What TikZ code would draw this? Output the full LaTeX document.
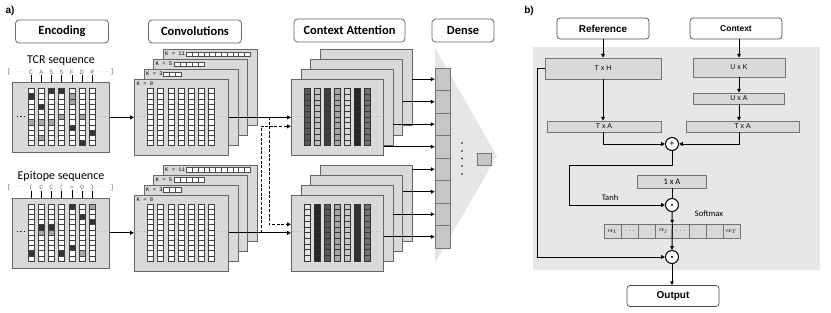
\documentclass[tikz,border=0pt]{standalone}
\usepackage{fontspec}
\setmainfont{Carlito}
\newfontfamily\arialfont{Liberation Sans}
\newfontfamily\seqfont{Liberation Mono}
\usepackage{tikz}
\usetikzlibrary{arrows.meta,positioning,calc}
\definecolor{boxgray}{HTML}{D9D9D9}
\definecolor{panelgray}{HTML}{E7E7E7}
\definecolor{cellgray}{HTML}{C6C6C6}
\definecolor{fangray}{HTML}{E6E6E6}
\definecolor{lettergray}{HTML}{6E6E6E}
\colorlet{hotcell}{black!80}
\colorlet{warmcell}{black!35}

% 7 sequence columns of 11 cells
\newcommand{\seqcells}[2]{%
  \foreach \i in {0,...,6}
    \foreach \j in {0,...,10}
      \draw[cell] ({#1+10.2*\i-3},{#2+5.2*\j}) rectangle ++(6,5.2);}
\newcommand{\markcell}[5]{%
  \draw[cell,fill=#5] ({#1+10.2*(#3-1)-3},{#2+5.2*(#4-1)}) rectangle ++(6,5.2);}

% stack of convolution maps
\newcommand{\convstack}[2]{%
  \node[fmap] (#1k11) at (162.5,{49+#2}) {};
  \node[klabel] at ($(#1k11.north west)+(2.5,5)$) {K = 11};
  \foreach \s in {0,...,10}
    \draw[kbox] ($(#1k11.north west)+(24,2.8)+(5.8*\s,0)$) rectangle ++(5.8,4.6);
  \node[fmap] (#1k5) at (153,{59+#2}) {};
  \node[klabel] at ($(#1k5.north west)+(2.5,5)$) {K = 5};
  \foreach \s in {0,...,4}
    \draw[kbox] ($(#1k5.north west)+(21,2.8)+(6*\s,0)$) rectangle ++(6,4.6);
  \node[fmap] (#1k3) at (143.5,{69+#2}) {};
  \node[klabel] at ($(#1k3.north west)+(2.5,5)$) {K = 3};
  \foreach \s in {0,...,2}
    \draw[kbox] ($(#1k3.north west)+(20,2.8)+(6*\s,0)$) rectangle ++(6,4.6);
  \node[fmap] (#1k0) at (134,{79+#2}) {};
  \node[klabel] at ($(#1k0.north west)+(2.5,5)$) {K = 0};
  \seqcells{150.5}{88.4+#2}
  \node[dotnode] at (141,{117+#2}) {$\cdots$};
  \node[dotnode] at (222,{117+#2}) {$\cdots$};}

% stack of attention maps
\newcommand{\ctxstack}[2]{%
  \node[ctxmap] (#14) at (319.5,{49+#2}) {};
  \node[ctxmap] (#13) at (310,{59+#2}) {};
  \node[ctxmap] (#12) at (300.5,{69+#2}) {};
  \node[ctxmap] (#11) at (291,{79+#2}) {};
  \node[dotnode] at (297.5,{117+#2}) {$\cdots$};
  \node[dotnode] at (376.5,{117+#2}) {$\cdots$};}

\begin{document}
\begin{tikzpicture}[x=1pt,y=-1pt,
  header/.style={draw=black!60, line width=0.8pt, rounded corners=3.5pt, fill=white,
    minimum width=93pt, minimum height=23pt, inner sep=0,
    font=\bfseries\fontsize{12.5}{14}\selectfont},
  fmap/.style={draw=black!60, line width=0.7pt, fill=boxgray, anchor=north west,
    inner sep=0, minimum width=94pt, minimum height=76pt},
  ctxmap/.style={fmap, minimum width=92pt},
  cell/.style={draw=black!75, line width=0.55pt, fill=white},
  attcell/.style={draw=black!80, line width=0.5pt},
  kbox/.style={draw=black!70, line width=0.45pt, fill=white},
  klabel/.style={anchor=west, inner sep=0, font=\seqfont\fontsize{5.5}{6}\selectfont},
  seqchar/.style={inner sep=0.6pt, text=lettergray, font=\seqfont\fontsize{6.5}{7}\selectfont},
  seqtitle/.style={font=\fontsize{12}{14}\selectfont},
  dotnode/.style={inner sep=0, font=\fontsize{6}{7}\selectfont},
  seqtick/.style={line width=0.55pt},
  dcell/.style={draw=black!55, line width=0.6pt, fill=cellgray, minimum width=15pt,
    minimum height=22.5pt, inner sep=0},
  arrow/.style={-{Triangle[length=3.8pt,width=3.6pt]}, line width=1pt},
  dasharrow/.style={arrow, dash pattern=on 3pt off 1.6pt},
  plainline/.style={line width=1pt},
  rhead/.style={draw=black!70, line width=0.7pt, rounded corners=3pt, fill=white,
    minimum width=92pt, minimum height=21pt, inner sep=0,
    font=\arialfont\bfseries\fontsize{10}{12}\selectfont},
  dimbox/.style={draw=black!55, line width=0.6pt, fill=boxgray, inner sep=0,
    font=\arialfont\fontsize{7}{8}\selectfont},
  opcircle/.style={circle, draw, line width=1pt, fill=white, minimum size=13pt,
    inner sep=0, font=\arialfont\fontsize{9}{9}\selectfont},
  acell/.style={draw=black!55, line width=0.6pt, fill=boxgray, minimum width=17pt,
    minimum height=14pt, inner sep=0, font=\fontsize{7.5}{8}\selectfont},
  opnote/.style={font=\fontsize{8.5}{10}\selectfont},
  panellabel/.style={font=\arialfont\bfseries\fontsize{10}{12}\selectfont}
]
\useasboundingbox (0,0) rectangle (831,313);

% backgrounds
\fill[fangray] (435,48) -- (497,156) -- (435,263) -- cycle;
\fill[panelgray] (533,47) rectangle (820,270);

% a) headers
\node[panellabel] (lbla) at (10,11) {a)};
\node[header] (encodingHead) at (62,31.5) {Encoding};
\node[header] (convHead) at (195,31.5) {Convolutions};
\node[header,minimum width=111pt] (attHead) at (349.5,30.5) {Context Attention};
\node[header,minimum width=62pt] (denseHead) at (463,30.5) {Dense};

% TCR encoding
\node[seqtitle] (tcrTitle) at (61,61) {TCR sequence};
\node[fmap,minimum width=97pt,minimum height=70pt] (encT) at (12,82) {};
\node[seqchar] at (9,72) {[};
\node[seqchar] at (19.5,72) {$\cdots$};
\node[seqchar] at (103,72) {$\cdots$};
\node[seqchar] at (112,72) {]};
\foreach \ch [count=\i] in {C,A,S,S,F,D,R} {
  \node[seqchar] (tcr\i) at ({31+10.2*(\i-1)},72) {\ch};
  \draw[seqtick] (tcr\i.south) -- (tcr\i.south |- encT.north);}
\seqcells{31}{88.4}
\foreach \cc/\rr/\ff in {1/2/hotcell,1/7/warmcell,2/4/hotcell,2/7/warmcell,2/10/warmcell,
  3/1/hotcell,3/7/warmcell,4/1/hotcell,4/6/warmcell,5/2/warmcell,5/3/warmcell,
  5/8/hotcell,6/6/warmcell,6/11/hotcell,7/9/hotcell}
  \markcell{31}{88.4}{\cc}{\rr}{\ff}
\node[dotnode] at (21,117) {$\cdots$};
\node[dotnode] at (102,117) {$\cdots$};

% epitope encoding
\node[seqtitle] (epiTitle) at (61,176.5) {Epitope sequence};
\node[fmap,minimum width=97pt,minimum height=70pt] (encB) at (12,197.5) {};
\node[seqchar] at (9,187.5) {[};
\node[seqchar] at (19.5,187.5) {$\cdots$};
\node[seqchar] at (103,187.5) {$\cdots$};
\node[seqchar] at (112,187.5) {]};
\foreach \ch [count=\i] in {{(},C,C,{(},=,O,{)}} {
  \node[seqchar] (epi\i) at ({31+10.2*(\i-1)},187.5) {\ch};
  \draw[seqtick] (epi\i.south) -- (epi\i.south |- encB.north);}
\seqcells{31}{203.9}
\foreach \cc/\rr/\ff in {1/10/hotcell,2/5/hotcell,2/6/warmcell,3/5/hotcell,3/6/warmcell,
  4/10/hotcell,5/1/hotcell,5/9/hotcell,6/3/hotcell,6/10/warmcell,7/1/warmcell,7/4/hotcell}
  \markcell{31}{203.9}{\cc}{\rr}{\ff}
\node[dotnode] at (21,232.5) {$\cdots$};
\node[dotnode] at (102,232.5) {$\cdots$};

% convolutions
\convstack{convT}{0}
\convstack{convB}{115.5}

% context attention
\ctxstack{ctxT}{0}
\foreach \i/\p in {0/65,1/25,2/75,3/35,4/15,5/85,6/55}
  \foreach \j in {0,...,9}
    \draw[attcell,fill=black!\p] ({304+10*\i},{88.5+5.7*\j}) rectangle ++(6.5,5.7);
\ctxstack{ctxB}{115.5}
\foreach \i/\p in {0/10,1/85,2/65,3/35,4/22,5/80,6/55}
  \foreach \j in {0,...,9}
    \draw[attcell,fill=black!\p] ({304+10*\i},{204+5.7*\j}) rectangle ++(6.5,5.7);

% dense
\foreach \i in {1,...,8}
  \node[dcell] (dcell\i) at (442.5,{68+22.5*\i-11.25}) {};
\node[dcell,minimum width=14pt,minimum height=12pt] (denseOut) at (484,159) {};
\foreach \y in {143,151,158.5,166,174}
  \fill (462,\y) circle (0.9pt);

% connectors a)
\draw[arrow] (encT.east) -- (encT.east -| convTk0.west);
\draw[arrow] (encB.east) -- (encB.east -| convBk0.west);
\draw[arrow] (convTk0.east) -- (ctxT1.west);
\draw[arrow] (convBk0.east) -- (ctxB1.west);
\coordinate (splitT) at (269,117);
\coordinate (splitB) at (261,232.5);
\draw[dasharrow] (splitT) |- ($(ctxB1.west)+(0,-8.5)$);
\draw[dasharrow] (splitB) |- ($(ctxT1.west)+(0,9)$);
\foreach \l/\c in {4/1,3/2,2/3,1/4}
  \draw[arrow] (ctxT\l.east |- dcell\c) -- (dcell\c.west);
\foreach \l/\c in {4/5,3/6,2/7,1/8}
  \draw[arrow] (ctxB\l.east |- dcell\c) -- (dcell\c.west);

% b) attention block
\node[panellabel] (lblb) at (529,11) {b)};
\node[rhead] (refHead) at (603,28.5) {Reference};
\node[rhead,font=\arialfont\bfseries\fontsize{8.5}{10}\selectfont] (ctxHead) at (736,28.5) {Context};
\node[dimbox,minimum width=116pt,minimum height=21pt] (txh) at (603,68.5) {T x H};
\node[dimbox,minimum width=92pt,minimum height=19pt] (uxk) at (739,67.5) {U x K};
\node[dimbox,minimum width=91pt,minimum height=11pt] (uxa) at (739,98.5) {U x A};
\node[dimbox,minimum width=114pt,minimum height=11pt] (txaL) at (604,126.5) {T x A};
\node[dimbox,minimum width=113pt,minimum height=11pt] (txaR) at (742.5,126.5) {T x A};
\node[opcircle] (plus) at (672,144) {+};
\node[dimbox,minimum width=69pt,minimum height=13pt,font=\fontsize{8.5}{10}\selectfont] (oneA) at (672,181.5) {1 x A};
\node[opcircle] (gate) at (672,205) {};
\fill (gate) circle (1.2pt);
\foreach \sym [count=\i] in {{$\alpha_1$},{$\cdots$},{},{$\alpha_j$},{$\cdots$},{},{},{$\alpha_T$}}
  \node[acell] (alpha\i) at ({612.5+17*(\i-1)},231) {\sym};
\node[opcircle] (pool) at (672,257) {};
\fill (pool) circle (1.2pt);
\node[rhead] (outHead) at (673,296) {Output};
\node[opnote] (tanhNote) at (610,198) {Tanh};
\node[opnote] (softNote) at (709,214) {Softmax};

% connectors b)
\coordinate (skipLine) at (537,0);
\coordinate (tanhBend) at (569,165);
\draw[arrow] (refHead.south) -- (txh.north);
\draw[arrow] (txh.south) -- (txh.south |- txaL.north);
\draw[arrow] (uxk.north |- ctxHead.south) -- (uxk.north);
\draw[arrow] (uxk.south) -- (uxa.north);
\draw[arrow] (uxa.south) -- (uxa.south |- txaR.north);
\draw[arrow] (txh.south |- txaL.south) |- (plus.west);
\draw[arrow] (uxa.south |- txaR.south) |- (plus.east);
\draw[arrow] (plus.south) |- (tanhBend) |- (gate.west);
\draw[plainline] (oneA.south) -- (gate.north);
\draw[arrow] (gate.south) -- (alpha4.north east);
\draw[arrow] (alpha4.north east) -- (pool.north);
\draw[arrow] (txh.west) -- (txh.west -| skipLine) |- (pool.west);
\draw[arrow] (pool.south) -- (pool.south |- outHead.north);
\end{tikzpicture}
\end{document}
